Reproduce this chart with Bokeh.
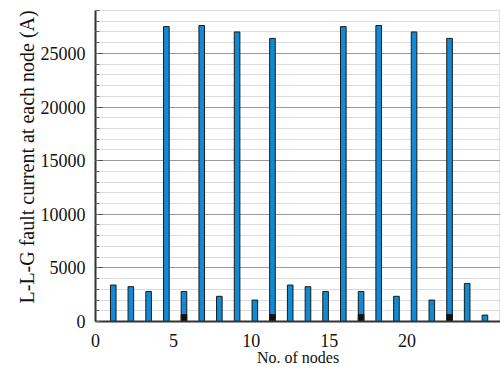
from bokeh.plotting import figure
from bokeh.models import Range1d, FixedTicker, SingleIntervalTicker, Title
from bokeh.embed import file_html
from bokeh.resources import INLINE

# Fault current per node (A); nodes are spread evenly over the 0-25 axis
node_pos = [1.14, 2.27, 3.41, 4.55, 5.68, 6.82, 7.95, 9.09, 10.23, 11.36, 12.50,
            13.64, 14.77, 15.91, 17.05, 18.18, 19.32, 20.45, 21.59, 22.73, 23.86, 25.00]
fault_current = [3400, 3250, 2800, 27500, 2800, 27600, 2350, 27000, 2000, 26400, 3400,
                 3250, 2800, 27500, 2800, 27600, 2350, 27000, 2000, 26400, 3550, 600]
# dark base segment shown on some of the bars
base_part = [0, 0, 0, 0, 650, 0, 0, 0, 0, 650, 0,
             0, 0, 0, 650, 0, 0, 0, 0, 650, 0, 0]
x_ticks = [0, 5, 10, 15, 20]

p = figure(width=500, height=373, output_backend="svg", toolbar_location=None,
           x_range=Range1d(0, 26), y_range=Range1d(0, 29000),
           min_border_left=95, min_border_right=0, min_border_top=10,
           min_border_bottom=52)
p.outline_line_color = "#dddddd"
p.background_fill_color = "white"

p.vbar(x=node_pos, top=fault_current, width=0.36, fill_color="#118ad6",
       line_color="#1a1a1a", line_width=1)
p.vbar(x=node_pos, top=base_part, width=0.36, fill_color="#111111",
       line_color="#1a1a1a", line_width=1, alpha=[1 if b else 0 for b in base_part])

font = "Liberation Serif"

p.xaxis.ticker = FixedTicker(ticks=x_ticks)
p.xaxis.axis_label = "No. of nodes"
p.xaxis.axis_line_color = "#333333"
p.xaxis.axis_line_width = 2
p.xaxis.major_tick_line_color = None
p.xaxis.minor_tick_line_color = None
p.xaxis.major_label_text_font = font
p.xaxis.major_label_text_font_size = "18px"
p.xaxis.major_label_text_color = "#111111"
p.xaxis.major_label_standoff = 6
p.xaxis.axis_label_text_font = font
p.xaxis.axis_label_text_font_size = "16px"
p.xaxis.axis_label_text_font_style = "normal"
p.xaxis.axis_label_text_color = "#111111"
p.xaxis.axis_label_standoff = -1

p.yaxis.ticker = SingleIntervalTicker(interval=5000, num_minor_ticks=5)
p.yaxis.axis_line_color = "#333333"
p.yaxis.axis_line_width = 2
p.yaxis.major_tick_in = 7
p.yaxis.major_tick_out = 0
p.yaxis.minor_tick_in = 4
p.yaxis.minor_tick_out = 0
p.yaxis.major_tick_line_color = "#444444"
p.yaxis.minor_tick_line_color = "#666666"
p.yaxis.major_label_text_font = font
p.yaxis.major_label_text_font_size = "18px"
p.yaxis.major_label_text_color = "#111111"
p.yaxis.major_label_standoff = 10

# vertical axis title, starting a little above the frame bottom
p.add_layout(Title(text="L-L-G fault current at each node (A)", align="left",
                   offset=18, standoff=0, text_font=font, text_font_size="20px",
                   text_font_style="normal", text_color="#111111"), "left")

p.xgrid.grid_line_color = None
p.ygrid.grid_line_color = "#9a9a9a"
p.ygrid.grid_line_width = 1
p.ygrid.minor_grid_line_color = "#dcdcdc"

open("out.html", "w").write(file_html(p, INLINE))
